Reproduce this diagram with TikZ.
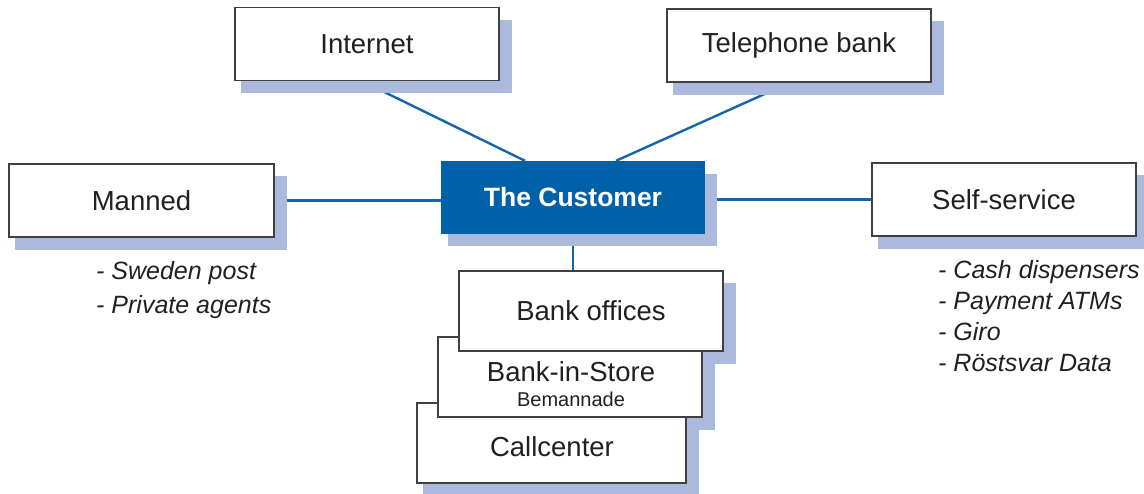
\documentclass[tikz,border=0pt]{standalone}
\usepackage{fontspec}
\setmainfont{Liberation Sans}
\usetikzlibrary{backgrounds,calc}
\definecolor{custblue}{RGB}{0,96,168}
\definecolor{shadowc}{RGB}{170,185,220}
\definecolor{linkblue}{RGB}{20,100,175}
\definecolor{txt}{RGB}{35,31,32}
\pgfdeclarelayer{shadelayer}
\pgfsetlayers{background,shadelayer,main}
\begin{document}
\begin{tikzpicture}[x=1pt,y=-1pt,
  box/.style={draw=black!75,line width=1.2pt,fill=white,text=txt,
    font=\fontsize{27.5}{33}\selectfont,minimum width=264pt,minimum height=73pt,inner sep=0pt},
  custbox/.style={fill=custblue,draw=none,text=white,
    font=\fontsize{26.5}{31}\selectfont\bfseries,minimum width=264pt,minimum height=73pt,inner sep=0pt},
  shadefill/.style={fill=shadowc},
  link/.style={draw=linkblue,line width=2.4pt},
  listtext/.style={anchor=base west,text=txt,inner sep=0pt,font=\fontsize{25}{30}\selectfont\itshape},
  subtext/.style={text=txt,inner sep=0pt,font=\fontsize{20}{24}\selectfont},
  boxtext/.style={text=txt,inner sep=0pt,font=\fontsize{27.5}{33}\selectfont}]
\useasboundingbox (0,0) rectangle (1144,493);

\node[box] (inet) at (367,44) {Internet};
\node[box] (tel) at (799,45.5) {Telephone bank};
\node[box,minimum width=265pt] (manned) at (141.5,200.5) {Manned};
\node[box] (ss) at (1004,199.5) {Self-service};
\node[custbox] (cust) at (573,197.5) {The Customer};

\node[box,minimum width=269pt,minimum height=80pt] (cc) at (551.5,443) {};
\node[boxtext] (cctxt) at (552,447) {Callcenter};
\node[box,minimum height=80pt] (bis) at (570,377) {};
\node[boxtext] (bistxt) at (571,372) {Bank-in-Store};
\node[subtext] (bissub) at (571,399) {Bemannade};
\node[box,minimum height=80pt] (bo) at (591,311) {Bank offices};

\begin{pgfonlayer}{shadelayer}
\foreach \n in {inet,tel,manned,ss,cust,cc,bis,bo}
  \fill[shadefill] ($(\n.north west)+(7,13)$) rectangle ($(\n.south east)+(12,12)$);
\end{pgfonlayer}

\begin{pgfonlayer}{background}
\draw[link] ($(inet.south)+(-5,0)$) -- ($(cust.north)+(-48,0)$);
\draw[link] ($(tel.south)+(-9,0)$) -- ($(cust.north)+(43,0)$);
\draw[link] (manned.east) -- (cust.west |- manned.east);
\draw[link] (cust.east |- ss.west) -- (ss.west);
\draw[link] (cust.south) -- (cust.south |- bo.north);
\end{pgfonlayer}

\node[listtext] (m1) at (96,279) {- Sweden post};
\node[listtext] (m2) at (96,313) {- Private agents};
\node[listtext] (s1) at (938,278) {- Cash dispensers};
\node[listtext] (s2) at (938,309) {- Payment ATMs};
\node[listtext] (s3) at (938,340) {- Giro};
\node[listtext] (s4) at (938,371) {- Röstsvar Data};
\end{tikzpicture}
\end{document}
